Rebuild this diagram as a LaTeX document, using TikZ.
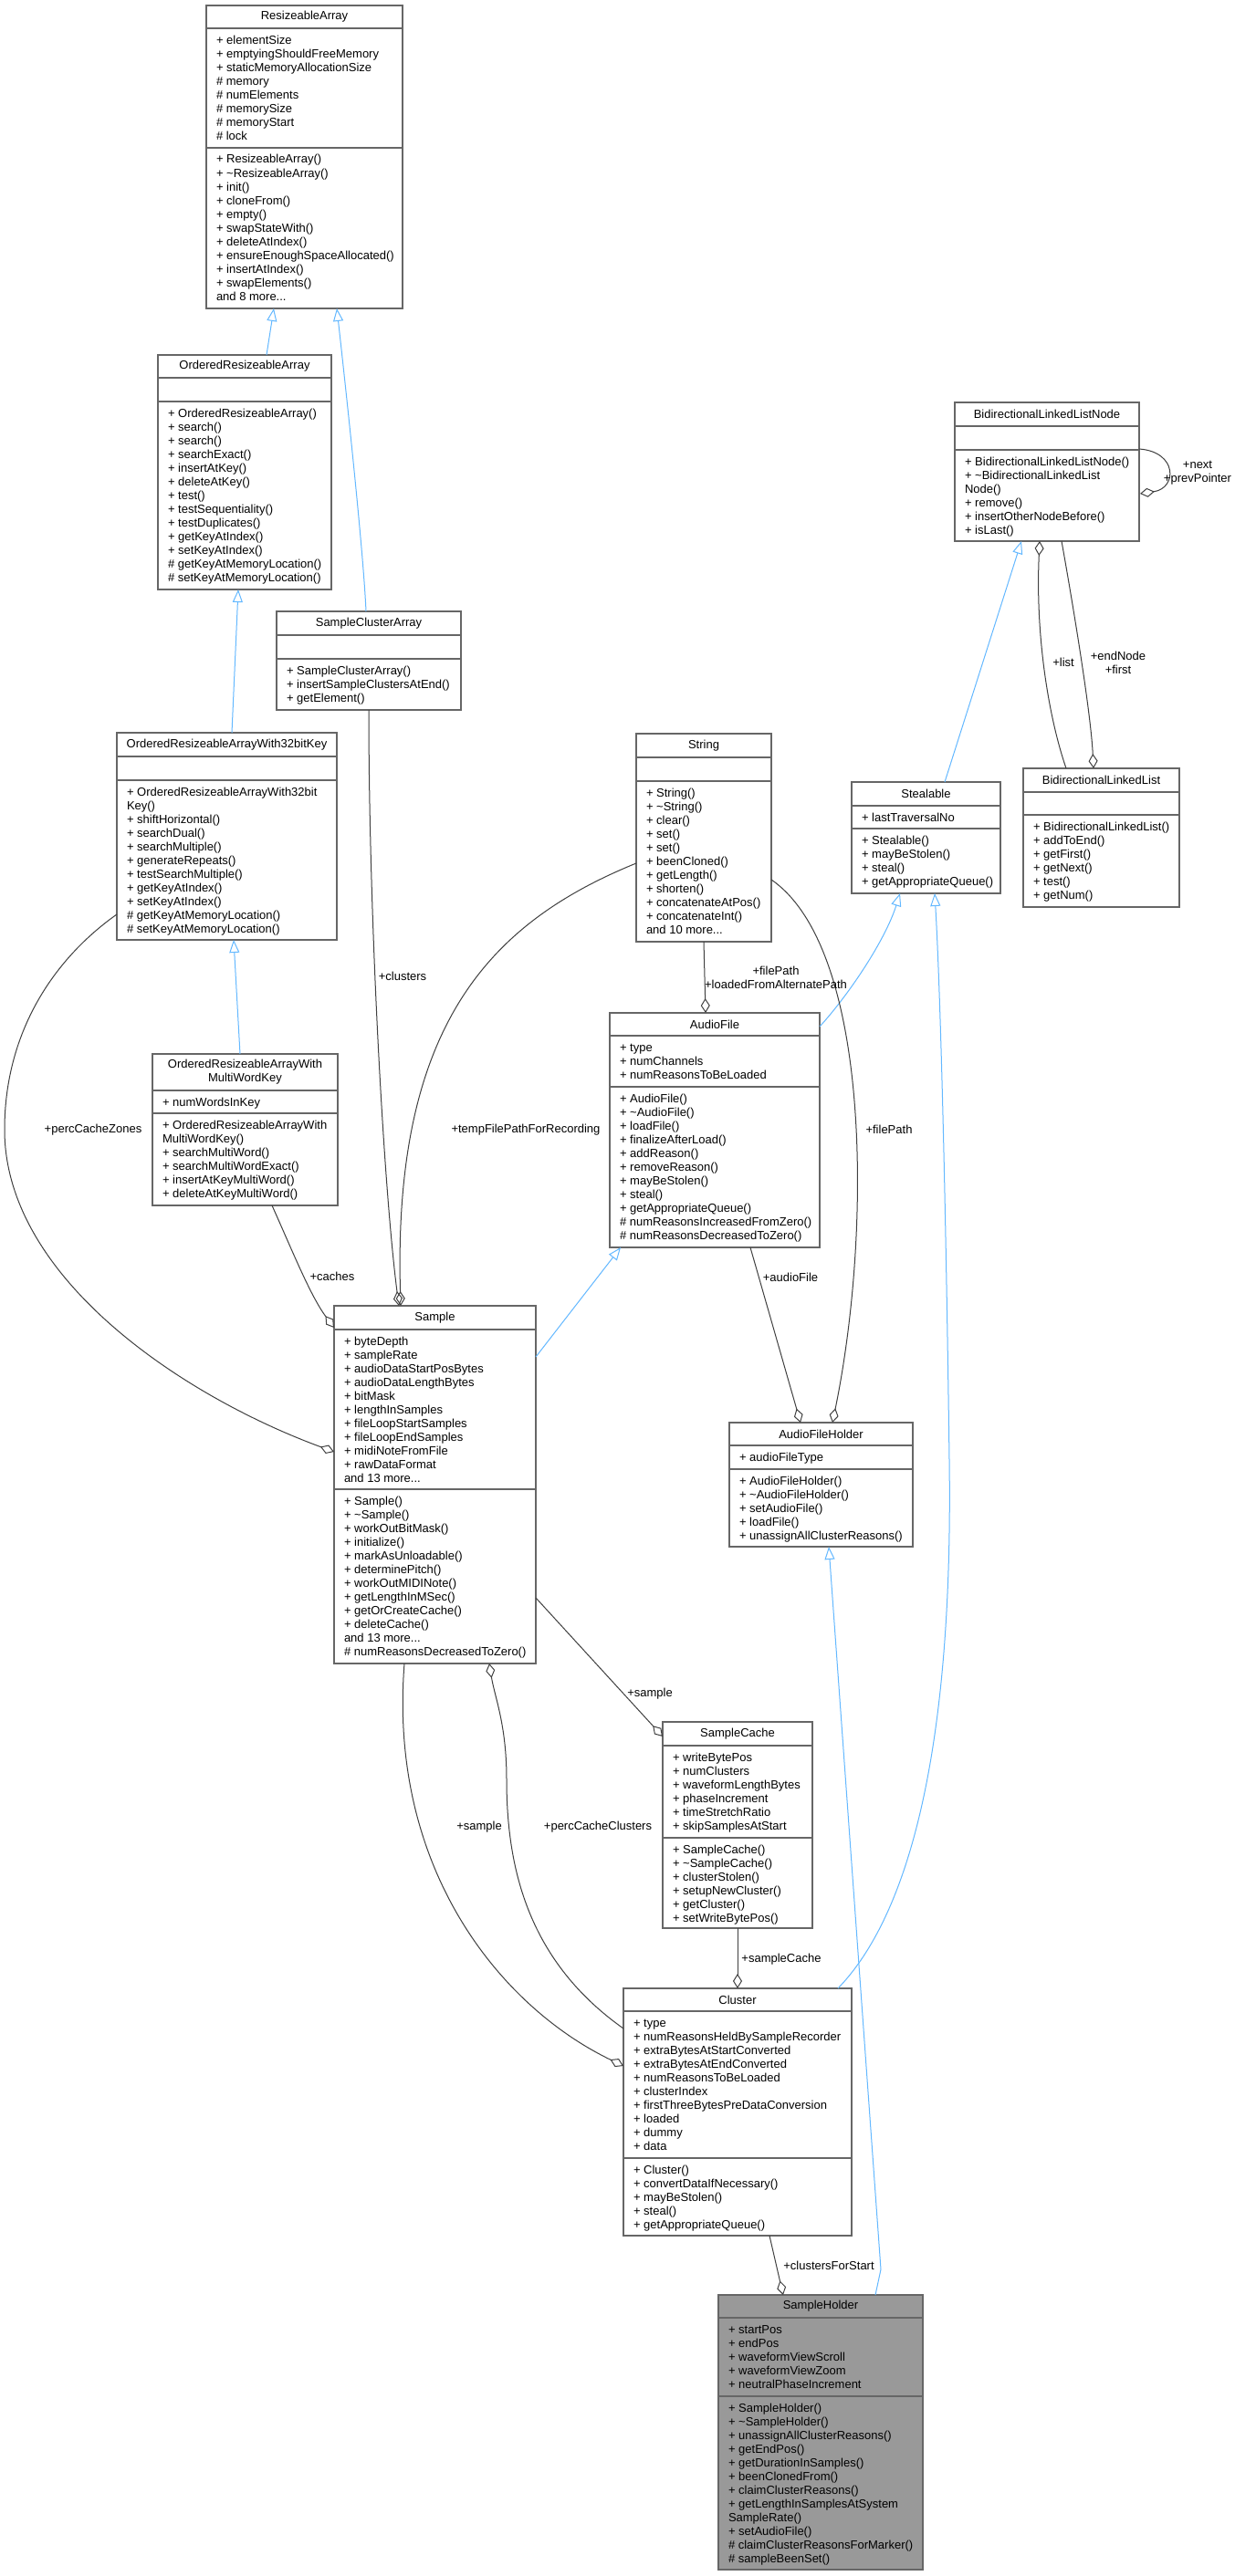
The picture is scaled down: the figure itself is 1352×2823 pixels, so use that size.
\documentclass[tikz,border=0pt]{standalone}
\usepackage{fontspec}
\setmainfont{Liberation Sans}
\usetikzlibrary{arrows.meta,fit}
\definecolor{boxc}{HTML}{666666}
\definecolor{edgec}{HTML}{404040}
\definecolor{inhc}{HTML}{63B8FF}
\newcommand\blk[1]{\vtop{\baselineskip=15pt\lineskiplimit=-5pt\halign{##\hfil\cr#1\crcr}}}
\tikzset{
  x=1pt,y=-1pt,
  every node/.style={font=\fontsize{13}{15}\selectfont, inner sep=0pt, outer sep=0pt},
  umlbox/.style={draw=boxc, line width=1.2pt, inner sep=0pt, outer sep=0pt},
  txt/.style={anchor=base west},
  inh/.style={draw=inhc, line width=1pt, -{Triangle[open,length=14pt,width=11pt]}},
  agg/.style={draw=edgec, line width=1pt, -{Diamond[open,length=16pt,width=10pt]}},
  lbl/.style={align=center, fill=none},
}
\newcommand\ubox[9][white]{%
  \node[umlbox, fill=#1, fit={(#3,#4)(#5,#6)}] (#2) {};
  \draw[draw=boxc, line width=1.2pt] (#3,#7) -- (#5,#7);
  \draw[draw=boxc, line width=1.2pt] (#3,#8) -- (#5,#8);
  \node[align=center] (#2-t) at ({(#3+#5)/2},{(#4+#7)/2}) {#9};
}
\newcommand\bpt[3]{([shift={(#2,#3)}]#1.north west)}
\begin{document}
\begin{tikzpicture}
\useasboundingbox (0,0) rectangle (1352,2823);
\fill[white] (0,0) rectangle (1352,2823);
% ---------- boxes ----------
\ubox{ra}{226}{6}{441}{338}{31}{162}{ResizeableArray}
\node[txt] at (237,49) {\blk{+ elementSize\cr + emptyingShouldFreeMemory\cr + staticMemoryAllocationSize\cr \# memory\cr \# numElements\cr \# memorySize\cr \# memoryStart\cr \# lock}};
\node[txt] at (237,179) {\blk{+ ResizeableArray()\cr + \textasciitilde ResizeableArray()\cr + init()\cr + cloneFrom()\cr + empty()\cr + swapStateWith()\cr + deleteAtIndex()\cr + ensureEnoughSpaceAllocated()\cr + insertAtIndex()\cr + swapElements()\cr and 8 more...}};

\ubox{ora}{173}{389}{363}{646}{414}{440}{OrderedResizeableArray}
\node[txt] at (184,457) {\blk{+ OrderedResizeableArray()\cr + search()\cr + search()\cr + searchExact()\cr + insertAtKey()\cr + deleteAtKey()\cr + test()\cr + testSequentiality()\cr + testDuplicates()\cr + getKeyAtIndex()\cr + setKeyAtIndex()\cr \# getKeyAtMemoryLocation()\cr \# setKeyAtMemoryLocation()}};

\ubox{sca}{303}{670}{505}{778}{696}{722}{SampleClusterArray}
\node[txt] at (314,739) {\blk{+ SampleClusterArray()\cr + insertSampleClustersAtEnd()\cr + getElement()}};

\ubox{oraw}{128}{803}{369}{1030}{829}{855}{OrderedResizeableArrayWith32bitKey}
\node[txt] at (139,872) {\blk{+ OrderedResizeableArrayWith32bit\cr Key()\cr + shiftHorizontal()\cr + searchDual()\cr + searchMultiple()\cr + generateRepeats()\cr + testSearchMultiple()\cr + getKeyAtIndex()\cr + setKeyAtIndex()\cr \# getKeyAtMemoryLocation()\cr \# setKeyAtMemoryLocation()}};

\ubox{mwk}{167}{1155}{370}{1321}{1195}{1220}{OrderedResizeableArrayWith\\MultiWordKey}
\node[txt] at (178,1212) {\blk{+ numWordsInKey}};
\node[txt] at (178,1237) {\blk{+ OrderedResizeableArrayWith\cr MultiWordKey()\cr + searchMultiWord()\cr + searchMultiWordExact()\cr + insertAtKeyMultiWord()\cr + deleteAtKeyMultiWord()}};

\ubox{str}{697}{804}{845}{1032}{830}{856}{String}
\node[txt] at (708,873) {\blk{+ String()\cr + \textasciitilde String()\cr + clear()\cr + set()\cr + set()\cr + beenCloned()\cr + getLength()\cr + shorten()\cr + concatenateAtPos()\cr + concatenateInt()\cr and 10 more...}};

\ubox{steal}{933}{857}{1096}{979}{883}{908}{Stealable}
\node[txt] at (944,900) {\blk{+ lastTraversalNo}};
\node[txt] at (944,925) {\blk{+ Stealable()\cr + mayBeStolen()\cr + steal()\cr + getAppropriateQueue()}};

\ubox{blln}{1046}{441}{1248}{593}{467}{493}{BidirectionalLinkedListNode}
\node[txt] at (1057,510) {\blk{+ BidirectionalLinkedListNode()\cr + \textasciitilde BidirectionalLinkedList\cr Node()\cr + remove()\cr + insertOtherNodeBefore()\cr + isLast()}};

\ubox{bll}{1121}{842}{1292}{994}{868}{893}{BidirectionalLinkedList}
\node[txt] at (1132,910) {\blk{+ BidirectionalLinkedList()\cr + addToEnd()\cr + getFirst()\cr + getNext()\cr + test()\cr + getNum()}};

\ubox{af}{668}{1110}{898}{1367}{1135}{1191}{AudioFile}
\node[txt] at (679,1152) {\blk{+ type\cr + numChannels\cr + numReasonsToBeLoaded}};
\node[txt] at (679,1208) {\blk{+ AudioFile()\cr + \textasciitilde AudioFile()\cr + loadFile()\cr + finalizeAfterLoad()\cr + addReason()\cr + removeReason()\cr + mayBeStolen()\cr + steal()\cr + getAppropriateQueue()\cr \# numReasonsIncreasedFromZero()\cr \# numReasonsDecreasedToZero()}};

\ubox{smp}{366}{1431}{587}{1823}{1457}{1632}{Sample}
\node[txt] at (377,1474) {\blk{+ byteDepth\cr + sampleRate\cr + audioDataStartPosBytes\cr + audioDataLengthBytes\cr + bitMask\cr + lengthInSamples\cr + fileLoopStartSamples\cr + fileLoopEndSamples\cr + midiNoteFromFile\cr + rawDataFormat\cr and 13 more...}};
\node[txt] at (377,1649) {\blk{+ Sample()\cr + \textasciitilde Sample()\cr + workOutBitMask()\cr + initialize()\cr + markAsUnloadable()\cr + determinePitch()\cr + workOutMIDINote()\cr + getLengthInMSec()\cr + getOrCreateCache()\cr + deleteCache()\cr and 13 more...\cr \# numReasonsDecreasedToZero()}};

\ubox{afh}{799}{1559}{1000}{1695}{1584}{1610}{AudioFileHolder}
\node[txt] at (810,1601) {\blk{+ audioFileType}};
\node[txt] at (810,1627) {\blk{+ AudioFileHolder()\cr + \textasciitilde AudioFileHolder()\cr + setAudioFile()\cr + loadFile()\cr + unassignAllClusterReasons()}};

\ubox{sc}{726}{1887}{890}{2113}{1913}{2014}{SampleCache}
\node[txt] at (737,1930) {\blk{+ writeBytePos\cr + numClusters\cr + waveformLengthBytes\cr + phaseIncrement\cr + timeStretchRatio\cr + skipSamplesAtStart}};
\node[txt] at (737,2031) {\blk{+ SampleCache()\cr + \textasciitilde SampleCache()\cr + clusterStolen()\cr + setupNewCluster()\cr + getCluster()\cr + setWriteBytePos()}};

\ubox{cl}{683}{2179}{933}{2450}{2204}{2365}{Cluster}
\node[txt] at (694,2221) {\blk{+ type\cr + numReasonsHeldBySampleRecorder\cr + extraBytesAtStartConverted\cr + extraBytesAtEndConverted\cr + numReasonsToBeLoaded\cr + clusterIndex\cr + firstThreeBytesPreDataConversion\cr + loaded\cr + dummy\cr + data}};
\node[txt] at (694,2382) {\blk{+ Cluster()\cr + convertDataIfNecessary()\cr + mayBeStolen()\cr + steal()\cr + getAppropriateQueue()}};

\ubox[gray!80]{sh}{787}{2515}{1011}{2816}{2540}{2626}{SampleHolder}
\node[txt] at (798,2557) {\blk{+ startPos\cr + endPos\cr + waveformViewScroll\cr + waveformViewZoom\cr + neutralPhaseIncrement}};
\node[txt] at (798,2643) {\blk{+ SampleHolder()\cr + \textasciitilde SampleHolder()\cr + unassignAllClusterReasons()\cr + getEndPos()\cr + getDurationInSamples()\cr + beenClonedFrom()\cr + claimClusterReasons()\cr + getLengthInSamplesAtSystem\cr SampleRate()\cr + setAudioFile()\cr \# claimClusterReasonsForMarker()\cr \# sampleBeenSet()}};

% ---------- inheritance ----------
\draw[inh] \bpt{ora}{119}{0} -- \bpt{ra}{74}{332};
\draw[inh] \bpt{sca}{98}{0} .. controls (398,600) and (376,400) .. \bpt{ra}{143}{332};
\draw[inh] \bpt{oraw}{126}{0} -- \bpt{ora}{88}{257};
\draw[inh] \bpt{mwk}{96}{0} -- \bpt{oraw}{128}{227};
\draw[inh] \bpt{steal}{102}{0} -- \bpt{blln}{73}{152};
\draw[inh] \bpt{af}{230}{15} .. controls (930,1090) and (970,1030) .. \bpt{steal}{53}{122};
\draw[inh] \bpt{cl}{235}{0} .. controls (985,2110) and (1045,1950) .. (1040,1600) .. controls (1036,1300) and (1030,1080) .. \bpt{steal}{91}{122};
\draw[inh] \bpt{smp}{221}{56} -- \bpt{af}{12}{257};
\draw[inh] \bpt{sh}{172}{0} -- (965,2487) -- \bpt{afh}{109}{136};

% ---------- aggregation ----------
\draw[agg] \bpt{blln}{202}{51} .. controls (1290,495) and (1290,535) .. \bpt{blln}{203}{100};
\draw[agg] \bpt{bll}{47}{0} .. controls (1150,790) and (1134,700) .. \bpt{blln}{93}{152};
\draw[agg] \bpt{blln}{117}{152} .. controls (1175,660) and (1195,780) .. \bpt{bll}{77}{0};
\draw[agg] \bpt{str}{74}{228} -- \bpt{af}{105}{0};
\draw[agg] \bpt{str}{148}{160} .. controls (955,1040) and (955,1350) .. \bpt{afh}{113}{0};
\draw[agg] \bpt{af}{154}{257} -- \bpt{afh}{78}{0};
\draw[agg] \bpt{sca}{101}{108} .. controls (404,1000) and (420,1300) .. \bpt{smp}{71}{0};
\draw[agg] \bpt{str}{0}{142} .. controls (540,1010) and (430,1120) .. \bpt{smp}{73}{0};
\draw[agg] \bpt{mwk}{131}{166} .. controls (320,1370) and (340,1420) .. \bpt{smp}{0}{24};
\draw[agg] \bpt{oraw}{0}{199} .. controls (60,1050) and (5,1130) .. (5,1238) .. controls (5,1400) and (200,1530) .. \bpt{smp}{0}{160};
\draw[agg] \bpt{smp}{221}{320} -- \bpt{sc}{0}{16};
\draw[agg] \bpt{sc}{82}{226} -- \bpt{cl}{125}{0};
\draw[agg] \bpt{smp}{77}{392} .. controls (425,2050) and (550,2200) .. \bpt{cl}{0}{85};
\draw[agg] \bpt{cl}{0}{44} .. controls (580,2150) and (555,2050) .. (555,1950) .. controls (555,1890) and (542,1860) .. \bpt{smp}{170}{392};
\draw[agg] \bpt{cl}{160}{271} -- \bpt{sh}{71}{0};

% ---------- labels ----------
\node[lbl] (l1) at (1312,518) {+next\\+prevPointer};
\node[lbl] (l2) at (1165,726) {+list};
\node[lbl] (l3) at (1225,726) {+endNode\\+first};
\node[lbl] (l4) at (850,1071) {+filePath\\+loadedFromAlternatePath};
\node[lbl] (l5) at (974,1238) {+filePath};
\node[lbl] (l6) at (866,1400) {+audioFile};
\node[lbl] (l7) at (441,1070) {+clusters};
\node[lbl] (l8) at (576,1238) {+tempFilePathForRecording};
\node[lbl] (l9) at (102,1238) {+percCacheZones};
\node[lbl] (l10) at (364,1399) {+caches};
\node[lbl] (l11) at (712,1856) {+sample};
\node[lbl] (l12) at (856,2147) {+sampleCache};
\node[lbl] (l13) at (525,2002) {+sample};
\node[lbl] (l14) at (655,2002) {+percCacheClusters};
\node[lbl] (l15) at (908,2483) {+clustersForStart};
\end{tikzpicture}
\end{document}
